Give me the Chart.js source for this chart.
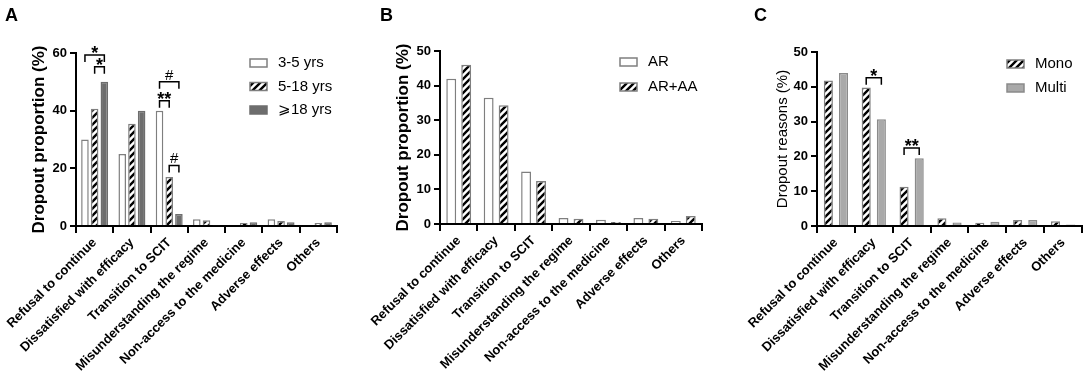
<!DOCTYPE html>
<html>
<head>
<meta charset="utf-8">
<script src="https://cdn.jsdelivr.net/npm/chart.js@4"></script>
<style>
  body { margin: 0; background: #fff; }
  #wrap { position: relative; width: 1084px; height: 386px; }
  canvas { position: absolute; top: 0; }
  .letter { position: absolute; top: 5px; font: bold 18px 'Liberation Sans', Arial, sans-serif; }
</style>
</head>
<body>
<div id="wrap">
  <canvas id="chartA" width="360" height="386" style="left:0"></canvas>
  <canvas id="chartB" width="360" height="386" style="left:360px"></canvas>
  <canvas id="chartC" width="364" height="386" style="left:720px"></canvas>
  <div class="letter" style="left:5px">A</div>
  <div class="letter" style="left:380px">B</div>
  <div class="letter" style="left:754px">C</div>
</div>
<script>
const categories = ['Refusal to continue', 'Dissatisfied with efficacy', 'Transition to SCIT',
  'Misunderstanding the regime', 'Non-access to the medicine', 'Adverse effects', 'Others'];

// panel A: by age
const age3to5 = [30, 25, 40, 2.3, 0, 2.3, 0];
const age5to18 = [40.7, 35.5, 17, 2, 1, 1.7, 1];
const age18plus = [50, 40, 4.2, 0.3, 1.3, 1.3, 1.3];
const yTicksA = [0, 20, 40, 60];

// panel B: AR vs AR+AA
const arOnly = [42, 36.5, 15.2, 1.7, 1.2, 1.7, 0.9];
const arAa = [46, 34.3, 12.4, 1.5, 0.6, 1.5, 2.3];
const yTicksB = [0, 10, 20, 30, 40, 50];

// panel C: mono vs multi
const mono = [41.8, 39.8, 11.3, 2.2, 0.9, 1.7, 1.4];
const multi = [44, 30.7, 19.5, 1.0, 1.2, 1.7, 0.4];
const yTicksC = [0, 10, 20, 30, 40, 50];

// significance marks: category index, dataset from/to, height in data units
const marksA = [
  { index: 0, from: 0, to: 2, value: 59.3, text: '*' },
  { index: 0, from: 1, to: 2, value: 55.2, text: '*' },
  { index: 2, from: 0, to: 2, value: 50, text: '#' },
  { index: 2, from: 0, to: 1, value: 43.4, text: '**' },
  { index: 2, from: 1, to: 2, value: 21, text: '#' }
];
const marksB = [];
const marksC = [
  { index: 1, from: 0, to: 1, value: 42.6, text: '*' },
  { index: 2, from: 0, to: 1, value: 22.4, text: '**' }
];

Chart.defaults.font.family = "'Liberation Sans', Arial, sans-serif";
Chart.defaults.color = '#000';

function hatch() {
  const c = document.createElement('canvas');
  c.width = 7; c.height = 7;
  const g = c.getContext('2d');
  g.fillStyle = '#fff';
  g.fillRect(0, 0, 7, 7);
  g.strokeStyle = '#000';
  g.lineWidth = 2.4;
  g.beginPath();
  g.moveTo(-1, 8); g.lineTo(8, -1);
  g.moveTo(-4, 4); g.lineTo(4, -4);
  g.moveTo(3, 11); g.lineTo(11, 3);
  g.stroke();
  return g.createPattern(c, 'repeat');
}
const stripes = hatch();

const openBar = { backgroundColor: '#fff', borderColor: '#7f7f7f' };
const stripeBar = { backgroundColor: stripes, borderColor: '#7f7f7f' };
const darkBar = { backgroundColor: '#6d6d6d', borderColor: '#6d6d6d' };
const greyBar = { backgroundColor: '#a9a9a9', borderColor: '#8a8a8a' };

const marksPlugin = {
  id: 'marks',
  afterDatasetsDraw(chart, args, opts) {
    const ctx = chart.ctx;
    const y = chart.scales.y;
    ctx.save();
    ctx.strokeStyle = '#000';
    ctx.lineWidth = 1.5;
    ctx.fillStyle = '#000';
    ctx.textAlign = 'center';
    ctx.textBaseline = 'alphabetic';
    (opts.items || []).forEach(m => {
      const x1 = chart.getDatasetMeta(m.from).data[m.index].x;
      const x2 = chart.getDatasetMeta(m.to).data[m.index].x;
      const py = y.getPixelForValue(m.value);
      ctx.beginPath();
      ctx.moveTo(x1, py + 7);
      ctx.lineTo(x1, py);
      ctx.lineTo(x2, py);
      ctx.lineTo(x2, py + 7);
      ctx.stroke();
      if (m.text === '#') {
        ctx.font = '15px "Liberation Sans", Arial, sans-serif';
        ctx.fillText(m.text, (x1 + x2) / 2, py - 2);
      } else {
        ctx.font = 'bold 18px "Liberation Sans", Arial, sans-serif';
        ctx.fillText(m.text, (x1 + x2) / 2, py + 4);
      }
    });
    ctx.restore();
  }
};

const legendPlugin = {
  id: 'boxLegend',
  afterDraw(chart, args, opts) {
    const ctx = chart.ctx;
    ctx.save();
    ctx.font = '15px "Liberation Sans", Arial, sans-serif';
    ctx.textBaseline = 'middle';
    ctx.textAlign = 'left';
    chart.data.datasets.forEach((ds, i) => {
      const yy = opts.y + i * opts.step;
      ctx.fillStyle = ds.backgroundColor;
      ctx.fillRect(opts.x, yy - 4, 17, 8);
      ctx.strokeStyle = ds.borderColor;
      ctx.lineWidth = 1.5;
      ctx.strokeRect(opts.x, yy - 4, 17, 8);
      ctx.fillStyle = '#000';
      ctx.fillText(ds.label, opts.x + 28, yy);
    });
    ctx.restore();
  }
};

function makePanel(id, sets, yTicks, yTitle, titleFont, pad, yWidth, xHeight, legend, marks, barPct, catPct) {
  return new Chart(document.getElementById(id), {
    type: 'bar',
    data: { labels: categories, datasets: sets },
    plugins: [marksPlugin, legendPlugin],
    options: {
      responsive: false,
      animation: false,
      layout: { padding: pad },
      datasets: { bar: { borderWidth: 1.5, barPercentage: barPct, categoryPercentage: catPct } },
      plugins: {
        legend: { display: false },
        tooltip: { enabled: false },
        marks: { items: marks },
        boxLegend: legend
      },
      scales: {
        x: {
          afterFit: s => { s.height = xHeight; },
          grid: { drawOnChartArea: false, drawTicks: true, tickLength: 7, color: '#000', lineWidth: 2 },
          border: { color: '#000', width: 2 },
          ticks: { autoSkip: false, minRotation: 45, maxRotation: 45, padding: 2,
                   font: { size: 13, weight: 'bold' } }
        },
        y: {
          min: yTicks[0],
          max: yTicks[yTicks.length - 1],
          afterFit: s => { s.width = yWidth; },
          afterBuildTicks: s => { s.ticks = yTicks.map(v => ({ value: v })); },
          grid: { drawOnChartArea: false, drawTicks: true, tickLength: 6, color: '#000', lineWidth: 2 },
          border: { color: '#000', width: 2 },
          ticks: { padding: 3, font: { size: 13, weight: 'bold' } },
          title: { display: true, text: yTitle, font: titleFont, padding: 4 }
        }
      }
    }
  });
}

makePanel('chartA', [
    Object.assign({ label: '3-5 yrs', data: age3to5 }, openBar),
    Object.assign({ label: '5-18 yrs', data: age5to18 }, stripeBar),
    Object.assign({ label: '\u2A7E18 yrs', data: age18plus }, darkBar)
  ], yTicksA, 'Dropout proportion (%)', { size: 17, weight: 'bold' },
  { left: 25, right: 23, top: 53, bottom: 0 }, 51, 160,
  { x: 250, y: 63, step: 23.5 }, marksA, 0.78, 0.78);

makePanel('chartB', [
    Object.assign({ label: 'AR', data: arOnly }, openBar),
    Object.assign({ label: 'AR+AA', data: arAa }, stripeBar)
  ], yTicksB, 'Dropout proportion (%)', { size: 17, weight: 'bold' },
  { left: 29, right: 18, top: 51, bottom: 0 }, 51, 162,
  { x: 260, y: 62, step: 25 }, marksB, 0.66, 0.8);

makePanel('chartC', [
    Object.assign({ label: 'Mono', data: mono }, stripeBar),
    Object.assign({ label: 'Multi', data: multi }, greyBar)
  ], yTicksC, 'Dropout reasons (%)', { size: 15, weight: 'normal' },
  { left: 50, right: 2, top: 52, bottom: 0 }, 47, 160,
  { x: 287, y: 64, step: 24 }, marksC, 0.6, 0.8);
</script>
</body>
</html>
